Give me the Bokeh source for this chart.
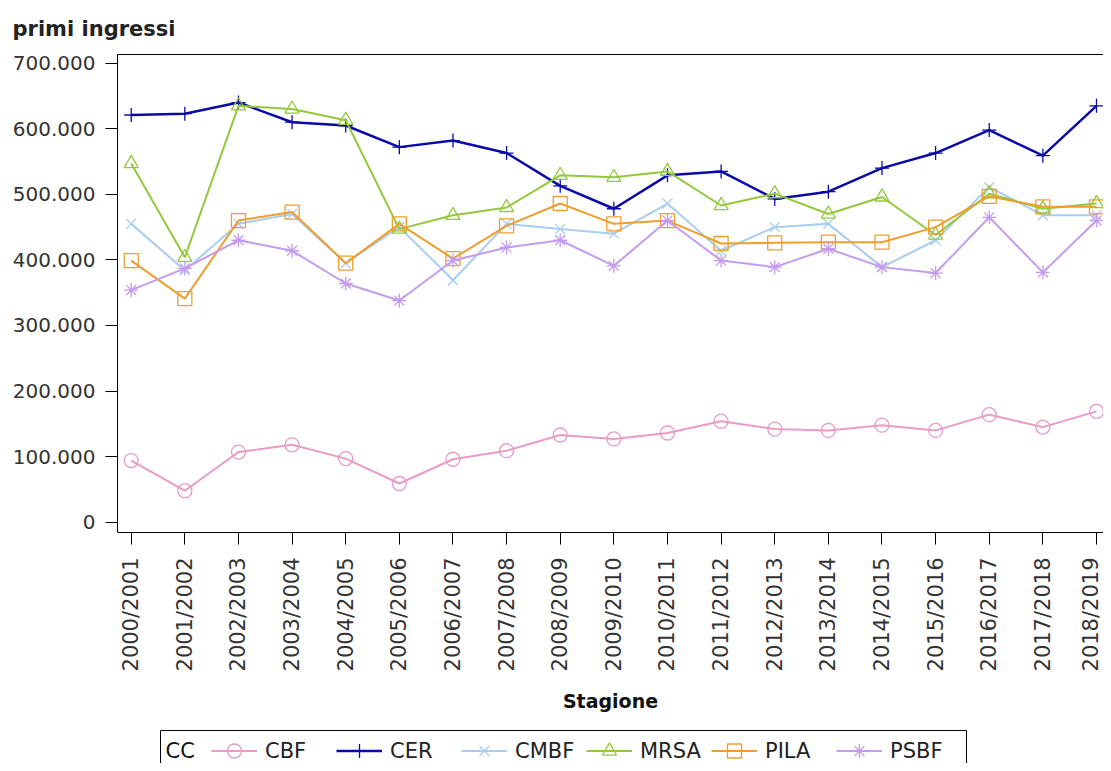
import math
from bokeh.plotting import figure
from bokeh.models import (Range1d, FixedTicker, LinearAxis, Legend, LegendItem,
                          ColumnDataSource, Label, BoxAnnotation)
from bokeh.embed import file_html
from bokeh.resources import INLINE

# ---------------- data ----------------
seasons = ["2000/2001", "2001/2002", "2002/2003", "2003/2004", "2004/2005",
           "2005/2006", "2006/2007", "2007/2008", "2008/2009", "2009/2010",
           "2010/2011", "2011/2012", "2012/2013", "2013/2014", "2014/2015",
           "2015/2016", "2016/2017", "2017/2018", "2018/2019"]

cbf = [94000, 48000, 107000, 118000, 97000, 59000, 96000, 109000, 133000, 127000,
       136000, 154000, 142000, 140000, 148000, 140000, 164000, 145000, 169000]
cer = [621000, 623000, 640000, 610000, 605000, 572000, 582000, 563000, 513000, 478000,
       529000, 535000, 493000, 504000, 540000, 563000, 598000, 559000, 635000]
cmbf = [455000, 384000, 455000, 470000, 395000, 450000, 369000, 455000, 447000, 440000,
        486000, 414000, 450000, 455000, 389000, 430000, 511000, 468000, 468000]
mrsa = [547000, 404000, 635000, 630000, 613000, 447000, 468000, 480000, 529000, 526000,
        535000, 483000, 501000, 470000, 496000, 438000, 501000, 478000, 486000]
pila = [399000, 341000, 460000, 473000, 395000, 455000, 402000, 452000, 486000, 455000,
        460000, 425000, 426000, 427000, 427000, 450000, 497000, 481000, 481000]
psbf = [354000, 387000, 430000, 414000, 364000, 338000, 399000, 419000, 430000, 391000,
        460000, 399000, 389000, 417000, 389000, 380000, 465000, 381000, 460000]

series_names = ["CBF", "CER", "CMBF", "MRSA", "PILA", "PSBF"]
series_values = [cbf, cer, cmbf, mrsa, pila, psbf]
series_colors = ["#E99BC6", "#0A0AA8", "#A8CDEF", "#94C83C", "#EE9E2E", "#C59BF0"]
series_markers = ["circle", "cross", "x", "triangle", "square", "asterisk"]

y_ticks = [0, 100000, 200000, 300000, 400000, 500000, 600000, 700000]
y_tick_labels = ["0", "100.000", "200.000", "300.000", "400.000", "500.000",
                 "600.000", "700.000"]

FONT = "DejaVu Sans"

# ---------------- figure ----------------
# The frame reaches down to the bottom of the canvas so that the legend
# (drawn inside the frame) is not clipped; the x axis is pinned at the
# bottom of the data area with fixed_location.
Y_LOW, Y_HIGH = -368000, 713270
AXIS_Y = -15700

x_idx = list(range(len(seasons)))
p = figure(width=1103, height=763, output_backend="svg", toolbar_location=None,
           x_range=Range1d(-0.2555, 18.1305), y_range=Range1d(Y_LOW, Y_HIGH),
           min_border_left=117, min_border_right=0, min_border_top=54,
           min_border_bottom=0, background_fill_color="white",
           border_fill_color="white")
p.outline_line_color = None
p.xgrid.grid_line_color = None
p.ygrid.grid_line_color = None

p.title.text = "primi ingressi"
p.title.text_font = FONT
p.title.text_font_size = "21px"
p.title.text_font_style = "bold"
p.title.text_color = "#222222"
p.title.align = "left"
p.title.offset = -105
p.title.standoff = 28

# x axis
xa = p.xaxis[0]
xa.fixed_location = AXIS_Y
xa.ticker = FixedTicker(ticks=x_idx)
xa.major_label_overrides = {i: s for i, s in zip(x_idx, seasons)}
xa.major_label_orientation = math.pi / 2
xa.major_label_text_font = FONT
xa.major_label_text_font_size = "21px"
xa.major_label_text_color = "#333333"
xa.major_label_standoff = 13
xa.major_tick_out = 12
xa.major_tick_in = 0
xa.minor_tick_out = 0
xa.axis_line_color = "black"
xa.major_tick_line_color = "black"
xa.axis_label = "Stagione"
xa.axis_label_text_font = FONT
xa.axis_label_text_font_size = "19px"
xa.axis_label_text_font_style = "bold"
xa.axis_label_text_color = "#111111"
xa.axis_label_standoff = 16

# y axis
ya = p.yaxis[0]
ya.ticker = FixedTicker(ticks=y_ticks)
ya.bounds = (AXIS_Y, Y_HIGH)
ya.major_label_overrides = {t: l for t, l in zip(y_ticks, y_tick_labels)}
ya.major_label_text_font = FONT
ya.major_label_text_font_size = "20px"
ya.major_label_text_color = "#333333"
ya.major_label_standoff = 10
ya.major_tick_out = 12
ya.major_tick_in = 0
ya.minor_tick_out = 0
ya.axis_line_color = "black"

# top frame line
top = LinearAxis(ticker=FixedTicker(ticks=[]), major_tick_out=0, major_tick_in=0,
                 minor_tick_out=0, minor_tick_in=0, major_label_text_font_size="0px",
                 axis_line_color="black")
p.add_layout(top, "above")

# ---------------- series ----------------
items = []
for name, vals, col, mk in zip(series_names, series_values, series_colors, series_markers):
    src = ColumnDataSource(dict(x=x_idx, y=vals))
    lw = 2.5 if name == "CER" else 2
    lr = p.line("x", "y", source=src, line_color=col, line_width=lw)
    sr = p.scatter("x", "y", source=src, marker=mk, size=14, fill_color=None,
                   line_color=col, line_width=1.3)
    items.append(LegendItem(label=name, renderers=[lr, sr]))

# legend frame and its "CC" heading (screen units, relative to the frame)
p.add_layout(BoxAnnotation(left=43, right=849, bottom=-20, top=33,
                           left_units="screen", right_units="screen",
                           bottom_units="screen", top_units="screen",
                           fill_color=None, fill_alpha=0, line_color="black",
                           line_alpha=1.0, line_width=1))
p.add_layout(Label(x=48, y=13, x_units="screen", y_units="screen", text="CC",
                   text_font=FONT, text_font_size="21px", text_color="#111111",
                   text_baseline="middle", text_align="left"))

legend = Legend(items=items, orientation="horizontal", location=(94, -5),
                label_text_font=FONT, label_text_font_size="21px",
                label_text_color="#222222",
                glyph_width=46, glyph_height=35, label_standoff=8,
                label_width=63, label_height=35, spacing=8, padding=0, margin=0,
                border_line_color=None, background_fill_alpha=0)
p.add_layout(legend, "center")

open("out.html", "w").write(file_html(p, INLINE))
